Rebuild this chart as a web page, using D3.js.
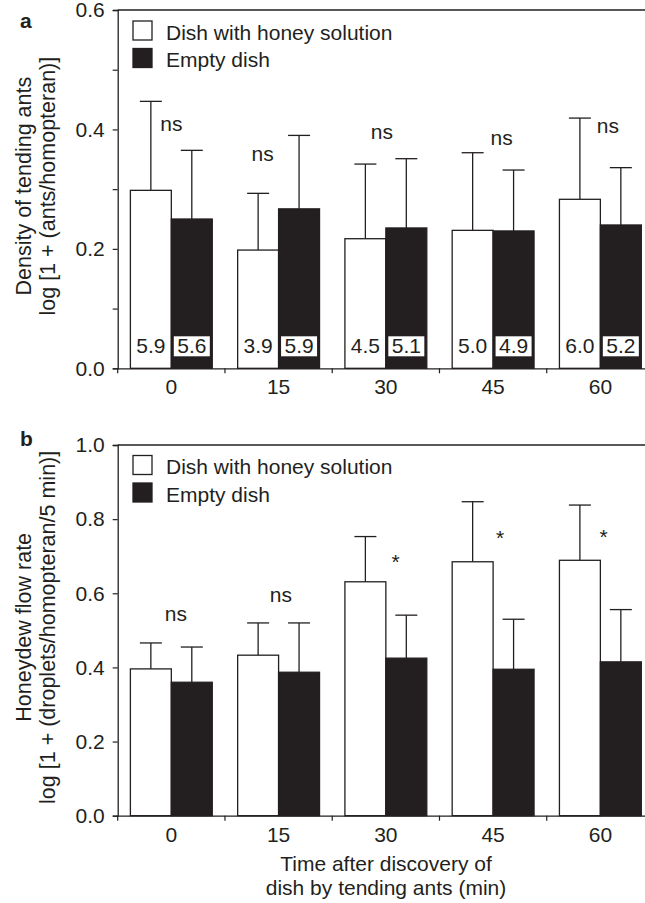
<!DOCTYPE html>
<html>
<head>
<meta charset="utf-8">
<script src="https://cdn.jsdelivr.net/npm/d3@7"></script>
<style>
  body { margin: 0; background: #fff; }
  svg text { font-family: "Liberation Sans", Arial, sans-serif; fill: #231f20; }
</style>
</head>
<body>
<svg id="chart" width="645" height="903"></svg>
<script>
// data
const times = ["0", "15", "30", "45", "60"];
const seriesNames = ["Dish with honey solution", "Empty dish"];

// panel a: density of tending ants
const densHoney = [0.298, 0.198, 0.217, 0.231, 0.283];
const densHoneySE = [0.149, 0.095, 0.125, 0.130, 0.136];
const densEmpty = [0.250, 0.267, 0.235, 0.230, 0.240];
const densEmptySE = [0.115, 0.123, 0.116, 0.102, 0.096];
const nHoney = ["5.9", "3.9", "4.5", "5.0", "6.0"];
const nEmpty = ["5.6", "5.9", "5.1", "4.9", "5.2"];
const densSig = ["ns", "ns", "ns", "ns", "ns"];
const densSigAt = [0.407, 0.357, 0.394, 0.384, 0.404];
const densTicks = [0, 0.2, 0.4, 0.6];
const densMinor = [0.1, 0.3, 0.5];

// panel b: honeydew flow rate
const flowHoney = [0.396, 0.433, 0.631, 0.685, 0.689];
const flowHoneySE = [0.070, 0.087, 0.122, 0.162, 0.149];
const flowEmpty = [0.360, 0.387, 0.425, 0.395, 0.415];
const flowEmptySE = [0.095, 0.133, 0.116, 0.135, 0.141];
const flowSig = ["ns", "ns", "*", "*", "*"];
const flowSigAt = [0.541, 0.593, 0.699, 0.763, 0.766];
const flowTicks = [0, 0.2, 0.4, 0.6, 0.8, 1.0];

const ink = "#231f20";
const fs = 21;
const svg = d3.select("#chart");

// x scales shared by both panels
var x0 = d3.scaleBand().domain(times).range([117.7, 654]).paddingInner(0).paddingOuter(0);
var x1 = d3.scaleBand().domain(seriesNames).range([0, x0.bandwidth()]).paddingInner(0).paddingOuter(0.31);

function panel(opt) {
  var y = d3.scaleLinear().domain(opt.domain).range([opt.bottom, opt.top]);
  var g = svg.append("g");

  // top frame line
  g.append("line")
    .attr("x1", x0.range()[0]).attr("x2", 645)
    .attr("y1", opt.top).attr("y2", opt.top)
    .attr("stroke", ink).attr("stroke-width", 1.3);

  var rows = times.map(function (t, i) {
    return [
      { t: t, s: seriesNames[0], v: opt.honey[i], se: opt.honeySE[i], n: opt.nHoney ? opt.nHoney[i] : null },
      { t: t, s: seriesNames[1], v: opt.empty[i], se: opt.emptySE[i], n: opt.nEmpty ? opt.nEmpty[i] : null }
    ];
  });
  var flat = [].concat.apply([], rows);
  var bx = function (d) { return x0(d.t) + x1(d.s); };
  var bw = x1.bandwidth();

  // error bars (upper only)
  var eb = g.append("g").selectAll("g").data(flat).enter().append("g")
    .attr("stroke", ink).attr("stroke-width", 1.3);
  eb.append("line")
    .attr("x1", function (d) { return bx(d) + bw / 2; })
    .attr("x2", function (d) { return bx(d) + bw / 2; })
    .attr("y1", function (d) { return y(d.v); })
    .attr("y2", function (d) { return y(d.v + d.se); });
  eb.append("line")
    .attr("x1", function (d) { return bx(d) + bw / 2 - 11; })
    .attr("x2", function (d) { return bx(d) + bw / 2 + 11; })
    .attr("y1", function (d) { return y(d.v + d.se); })
    .attr("y2", function (d) { return y(d.v + d.se); });

  // bars
  g.append("g").selectAll("rect").data(flat).enter().append("rect")
    .attr("x", bx)
    .attr("y", function (d) { return y(d.v); })
    .attr("width", bw)
    .attr("height", function (d) { return y(0) - y(d.v); })
    .attr("fill", function (d) { return d.s === seriesNames[0] ? "#fff" : ink; })
    .attr("stroke", ink).attr("stroke-width", 1.3);

  // sample sizes inside the bars
  if (opt.nHoney) {
    var lab = g.append("g").selectAll("g").data(flat).enter().append("g")
      .attr("transform", function (d) { return "translate(" + (bx(d) + bw / 2) + "," + (y(0) - 15) + ")"; });
    lab.filter(function (d) { return d.s === seriesNames[1]; })
      .append("rect")
      .attr("x", -18).attr("y", -17).attr("width", 36).attr("height", 20)
      .attr("fill", "#fff");
    lab.append("text")
      .attr("text-anchor", "middle")
      .attr("font-size", fs)
      .text(function (d) { return d.n; });
  }

  // significance marks
  g.append("g").selectAll("text").data(opt.sig).enter().append("text")
    .attr("x", function (d, i) { return x0(times[i]) + x0.bandwidth() / 2 + opt.sigDx[i]; })
    .attr("y", function (d, i) { return y(opt.sigAt[i]) + (d === "*" ? 12 : 6); })
    .attr("text-anchor", "middle")
    .attr("font-size", fs)
    .text(function (d) { return d; });

  // y axis
  var ya = g.append("g").attr("transform", "translate(" + x0.range()[0] + ",0)")
    .call(d3.axisLeft(y).tickValues(opt.ticks).tickFormat(d3.format(".1f")).tickSize(5).tickPadding(8));
  if (opt.minor) {
    g.append("g").attr("transform", "translate(" + x0.range()[0] + ",0)")
      .call(d3.axisLeft(y).tickValues(opt.minor).tickFormat("").tickSize(5))
      .select(".domain").remove();
  }
  ya.selectAll("text").attr("font-size", fs).attr("font-family", "Liberation Sans, Arial, sans-serif").attr("fill", ink);

  // x axis: labels at band centres, ticks at band boundaries
  var xa = g.append("g").attr("transform", "translate(0," + y(0) + ")")
    .call(d3.axisBottom(x0).tickSize(0).tickPadding(11).tickSizeOuter(0));
  xa.selectAll("text").attr("font-size", fs).attr("font-family", "Liberation Sans, Arial, sans-serif").attr("fill", ink);
  xa.selectAll(".tick").append("line")
    .attr("x1", -x0.bandwidth() / 2).attr("x2", -x0.bandwidth() / 2)
    .attr("y1", 0).attr("y2", 5).attr("stroke", ink);
  g.selectAll(".domain").attr("stroke", ink).attr("stroke-width", 1.3);
  g.selectAll(".tick line").attr("stroke", ink).attr("stroke-width", 1.2);

  // y title (two lines)
  var cy = (opt.top + opt.bottom) / 2 - 3;
  opt.ytitle.forEach(function (s, i) {
    g.append("text")
      .attr("transform", "translate(" + (31 + i * 24) + "," + cy + ") rotate(-90)")
      .attr("text-anchor", "middle")
      .attr("font-size", 21.5)
      .text(s);
  });

  // panel letter
  g.append("text").attr("x", 20).attr("y", opt.letterY)
    .attr("font-size", 21).attr("font-weight", "bold").text(opt.letter);

  // legend
  var lg = g.append("g").attr("transform", "translate(133," + (opt.top + opt.legendDy) + ")");
  seriesNames.forEach(function (s, i) {
    lg.append("rect").attr("x", 0).attr("y", i * 27.5).attr("width", 19).attr("height", 19)
      .attr("fill", i === 0 ? "#fff" : ink).attr("stroke", ink).attr("stroke-width", 1.3);
    lg.append("text").attr("x", 33).attr("y", i * 27.5 + 18.5).attr("font-size", fs).text(s);
  });
}

panel({
  letter: "a", letterY: 28, domain: [0, 0.6], top: 10, bottom: 368.3, legendDy: 11,
  honey: densHoney, honeySE: densHoneySE, empty: densEmpty, emptySE: densEmptySE,
  nHoney: nHoney, nEmpty: nEmpty,
  sig: densSig, sigAt: densSigAt, sigDx: [0, -16, -4, 8.5, 7.5],
  ticks: densTicks, minor: densMinor,
  ytitle: ["Density of tending ants", "log [1 + (ants/homopteran)]"]
});

panel({
  letter: "b", letterY: 446, domain: [0, 1.0], top: 445, bottom: 815.7, legendDy: 10.5,
  honey: flowHoney, honeySE: flowHoneySE, empty: flowEmpty, emptySE: flowEmptySE,
  sig: flowSig, sigAt: flowSigAt, sigDx: [4.6, 2.3, 9.7, 7, 3.3],
  ticks: flowTicks,
  ytitle: ["Honeydew flow rate", "log [1 + (droplets/homopteran/5 min)]"]
});

// x axis title
svg.append("text").attr("x", 386).attr("y", 870.5).attr("text-anchor", "middle")
  .attr("font-size", fs).text("Time after discovery of");
svg.append("text").attr("x", 386).attr("y", 895).attr("text-anchor", "middle")
  .attr("font-size", fs).text("dish by tending ants (min)");
</script>
</body>
</html>
